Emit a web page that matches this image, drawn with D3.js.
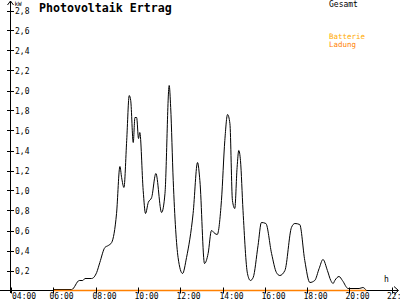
<!DOCTYPE html>
<html>
<head>
<meta charset="utf-8">
<script src="https://cdn.jsdelivr.net/npm/d3@7"></script>
<style>
  html, body { margin: 0; padding: 0; background: #fff; }
  svg { display: block; }
  text { font-family: "DejaVu Sans Mono", monospace; }
</style>
</head>
<body>
<script>
// ---- data ----
const hours = [6.00, 6.87, 7.23, 7.39, 7.50, 7.81, 8.05, 8.20, 8.44, 8.60, 8.76, 8.99, 9.15, 9.23, 9.34, 9.47, 9.59, 9.66, 9.78, 9.86, 9.94, 10.03, 10.09, 10.25, 10.36, 10.49, 10.65, 10.85, 11.12, 11.28, 11.48, 11.55, 11.67, 11.90, 12.11, 12.30, 12.61, 12.82, 12.93, 13.15, 13.32, 13.48, 13.64, 13.75, 13.95, 14.11, 14.24, 14.35, 14.47, 14.58, 14.69, 14.77, 14.85, 14.97, 15.18, 15.32, 15.45, 15.68, 15.84, 16.05, 16.32, 16.55, 16.71, 16.95, 17.26, 17.42, 17.65, 17.89, 18.13, 18.36, 18.57, 18.75, 18.96, 19.12, 19.23, 19.31, 19.51, 19.67, 19.94, 20.46, 20.64, 20.80];
const gesamt = [0.01, 0.01, 0.10, 0.10, 0.12, 0.12, 0.18, 0.28, 0.43, 0.45, 0.48, 0.77, 1.24, 1.13, 1.03, 1.50, 1.95, 1.90, 1.48, 1.73, 1.73, 1.52, 1.58, 1.00, 0.77, 0.88, 0.93, 1.17, 0.78, 0.97, 2.05, 1.83, 1.10, 0.33, 0.17, 0.33, 0.77, 1.28, 1.10, 0.27, 0.37, 0.60, 0.57, 0.56, 0.90, 1.50, 1.76, 1.67, 0.90, 0.82, 1.23, 1.40, 1.30, 0.80, 0.17, 0.10, 0.13, 0.45, 0.68, 0.67, 0.37, 0.18, 0.15, 0.20, 0.63, 0.67, 0.66, 0.30, 0.08, 0.10, 0.22, 0.31, 0.20, 0.10, 0.07, 0.10, 0.14, 0.10, 0.02, 0.02, 0.03, 0.00];
const batHours = [6.00, 20.80];
const batterie = [0, 0];
const xTicks = [4, 6, 8, 10, 12, 14, 16, 18, 20, 22];
const xTickLabels = ["04:00", "06:00", "08:00", "10:00", "12:00", "14:00", "16:00", "18:00", "20:00", "22:"];
const yTicks = [0.2, 0.4, 0.6, 0.8, 1.0, 1.2, 1.4, 1.6, 1.8, 2.0, 2.2, 2.4, 2.6, 2.8];
const yTickLabels = ["0,2", "0,4", "0,6", "0,8", "1,0", "1,2", "1,4", "1,6", "1,8", "2,0", "2,2", "2,4", "2,6", "2,8"];
const title = "Photovoltaik Ertrag";
const legendItems = ["Gesamt", "Batterie", "Ladung"];

// ---- chart ----
const W = 400, H = 300;
const svg = d3.select("body").append("svg").attr("width", W).attr("height", H);
svg.append("rect").attr("width", W).attr("height", H).attr("fill", "#fff");

const x = d3.scaleLinear().domain([4, 22]).range([11, 391.7]);
const y = d3.scaleLinear().domain([0, 2.8]).range([290.5, 10.5]);
const axisX0 = 10.5;

// data line
const line = d3.line().x(d => x(d[0])).y(d => y(d[1])).curve(d3.curveMonotoneX);
svg.append("path")
  .datum(hours.map((h, i) => [h, gesamt[i]]))
  .attr("d", line).attr("fill", "none").attr("stroke", "#000").attr("stroke-width", 1);

// x axis line + arrow
const ax = svg.append("g").attr("stroke", "#000").attr("stroke-width", 1).attr("fill", "none");
ax.append("line").attr("x1", 0).attr("x2", 398).attr("y1", y(0)).attr("y2", y(0));
ax.append("path").attr("d", `M394,${y(0) - 4}L398.5,${y(0)}L394,${y(0) + 4}`);
// y axis line + arrow
ax.append("line").attr("x1", axisX0).attr("x2", axisX0).attr("y1", 1).attr("y2", 293);
ax.append("path").attr("d", `M7.5,5L${axisX0},1L13.5,5`);

// battery line on top
svg.append("path")
  .datum(batHours.map((h, i) => [h, batterie[i]]))
  .attr("d", d3.line().x(d => x(d[0])).y(d => y(d[1])))
  .attr("fill", "none").attr("stroke", "#ff8000").attr("stroke-width", 1.5);

// y ticks
const yg = svg.append("g");
yTicks.forEach((v, i) => {
  yg.append("line").attr("x1", 7).attr("x2", 14).attr("y1", Math.round(y(v)) + 0.5).attr("y2", Math.round(y(v)) + 0.5)
    .attr("stroke", "#000").attr("stroke-width", 1);
  yg.append("text").attr("x", 15).attr("y", y(v) + 3).attr("font-size", 8).attr("fill", "#000").text(yTickLabels[i]);
});

// x ticks
const xg = svg.append("g");
xTicks.forEach((v, i) => {
  const px = Math.round(x(v)) + 0.5;
  xg.append("line").attr("x1", px).attr("x2", px).attr("y1", y(0) - 3).attr("y2", y(0) + 3)
    .attr("stroke", "#000").attr("stroke-width", 1);
  const tx = i === 0 ? px + 0.5 : (i === xTicks.length - 1 ? px - 5.5 : px - 4);
  xg.append("text").attr("x", tx).attr("y", 299).attr("font-size", 8).attr("fill", "#000").text(xTickLabels[i]);
});

// unit labels
svg.append("text").attr("x", 14.5).attr("y", 5.5).attr("font-size", 6).attr("fill", "#000").text("kW");
svg.append("text").attr("x", 384).attr("y", 282).attr("font-size", 8).attr("fill", "#000").text("h");

// title
svg.append("text").attr("x", 39).attr("y", 12).attr("font-size", 11.6).attr("font-weight", "bold").attr("fill", "#000").text(title);

// legend
svg.append("text").attr("x", 329).attr("y", 7).attr("font-size", 8).attr("fill", "#000").text(legendItems[0]);
svg.append("text").attr("x", 329).attr("y", 38.5).attr("font-size", 7.5).attr("fill", "#ffaa00").text(legendItems[1]);
svg.append("text").attr("x", 329).attr("y", 46.5).attr("font-size", 7.5).attr("fill", "#ff7f00").text(legendItems[2]);
</script>
</body>
</html>
